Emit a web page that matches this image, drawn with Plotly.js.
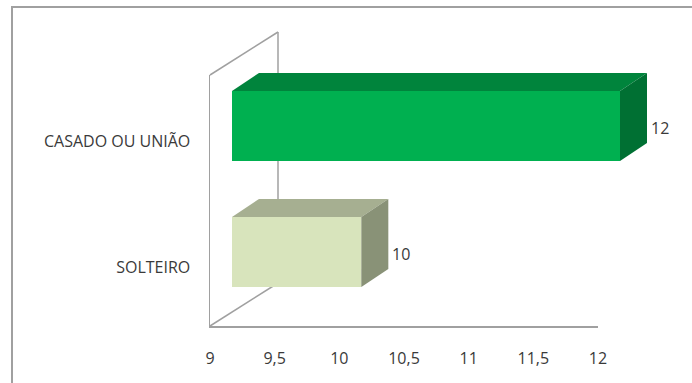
<!DOCTYPE html>
<html><head><meta charset="utf-8">
<script src="https://cdn.plot.ly/plotly-3.0.1.min.js"></script>
<style>html,body{margin:0;padding:0;background:#fff}#chart{width:692px;height:383px}</style>
</head><body><div id="chart"></div>
<script>
// ---- data ----
const categories = ['SOLTEIRO', 'CASADO OU UNIÃO'];
const values = [10, 12];
const tickValues = [9, 9.5, 10, 10.5, 11, 11.5, 12];
const valueLabels = ['10', '12'];

// ---- styles ----
const frontColors = ['#D8E4BC', '#00B050'];
const topColors = ['#A6AF91', '#00843C'];
const sideColors = ['#899277', '#007033'];
const textColor = '#3A3A3A';
const lineColor = '#A0A0A0';
const fontFam = 'Open Sans, sans-serif';

// ---- geometry (pixels) ----
const W = 692, H = 383;
const xMin = tickValues[0], xMax = tickValues[tickValues.length - 1];
const axL = 210, axR = 598, axB = 326, axT = 75;
const pxX = (axR - axL) / (xMax - xMin);
const catPx = [267, 141];
const pxY = catPx[0] - catPx[1];
const frontShift = {x: 22, y: 15};
const depth = {x: 27, y: 18};
const wallDepth = {x: 68, y: 43};
const barPx = 70;

const px2 = (px, py) => [px / W, 1 - py / H];

// main axis ranges
const yMainRange = [0 - (axB - catPx[0]) / pxY, 1 + (catPx[1] - axT) / pxY];
// overlay axes covering whole paper, offset for bar depth
const fx = axL + frontShift.x;
const fy0 = catPx[0] - frontShift.y;
const x2Range = [xMin - fx / pxX, xMin + (W - fx) / pxX];
const y2Range = [0 - (H - fy0) / pxY, fy0 / pxY];

const bw = barPx / pxY;
const ddx = depth.x / pxX, ddy = depth.y / pxY;

const traces = [];
values.forEach((v, i) => {
  const y0 = i - bw / 2, y1 = i + bw / 2;
  traces.push({
    type: 'scatter', mode: 'lines', xaxis: 'x2', yaxis: 'y2',
    x: [xMin, xMin + ddx, v + ddx, v, xMin],
    y: [y1, y1 + ddy, y1 + ddy, y1, y1],
    fill: 'toself', fillcolor: topColors[i], line: {width: 0}, hoverinfo: 'skip', showlegend: false
  });
  traces.push({
    type: 'scatter', mode: 'lines', xaxis: 'x2', yaxis: 'y2',
    x: [v, v, v + ddx, v + ddx, v],
    y: [y0, y1, y1 + ddy, y0 + ddy, y0],
    fill: 'toself', fillcolor: sideColors[i], line: {width: 0}, hoverinfo: 'skip', showlegend: false
  });
});
traces.push({
  type: 'bar', orientation: 'h', xaxis: 'x2', yaxis: 'y2',
  y: categories.map((c, i) => i),
  x: values.map(v => v - xMin),
  base: xMin,
  width: bw,
  marker: {color: frontColors, line: {width: 0}},
  hoverinfo: 'skip', showlegend: false
});
// invisible trace on main axes so they render
traces.push({type: 'scatter', mode: 'markers', x: [xMin], y: [0], marker: {opacity: 0}, hoverinfo: 'skip', showlegend: false});

const annotations = values.map((v, i) => ({
  xref: 'x2', yref: 'y2', x: v + ddx, y: i, text: valueLabels[i],
  xanchor: 'left', yanchor: 'middle', xshift: 2, yshift: -2, showarrow: false,
  font: {family: fontFam, size: 16, color: textColor}
}));

const wallTopL = px2(axL, axT), wallTopB = px2(axL + wallDepth.x, axT - wallDepth.y);
const wallBotL = px2(axL, axB), wallBotB = px2(axL + wallDepth.x, axB - wallDepth.y);
const lineShape = (a, b) => ({type: 'line', xref: 'paper', yref: 'paper', x0: a[0], y0: a[1], x1: b[0], y1: b[1], line: {color: lineColor, width: 1.5}, layer: 'below'});
const b0 = px2(12, 7), b1 = px2(W + 20, H + 20);

const layout = {
  width: W, height: H,
  margin: {l: 0, r: 0, t: 0, b: 0},
  paper_bgcolor: '#fff', plot_bgcolor: 'rgba(0,0,0,0)',
  separators: ', ',
  showlegend: false,
  xaxis: {
    domain: [axL / W, axR / W], range: [xMin, xMax],
    tickvals: tickValues, ticks: '', showgrid: false, zeroline: false,
    showline: true, linecolor: lineColor, linewidth: 1.5,
    ticklabelstandoff: 17,
    tickfont: {family: fontFam, size: 16, color: textColor}, fixedrange: true
  },
  yaxis: {
    domain: [1 - axB / H, 1 - axT / H], range: yMainRange,
    tickvals: categories.map((c, i) => i), ticktext: categories,
    ticks: '', showgrid: false, zeroline: false,
    showline: true, linecolor: lineColor, linewidth: 1.5,
    ticklabelstandoff: 15,
    tickfont: {family: fontFam, size: 16, color: textColor}, fixedrange: true
  },
  xaxis2: {domain: [0, 1], range: x2Range, anchor: 'y2', visible: false, fixedrange: true},
  yaxis2: {domain: [0, 1], range: y2Range, anchor: 'x2', visible: false, fixedrange: true},
  shapes: [
    lineShape(wallTopL, wallTopB),
    lineShape(wallTopB, wallBotB),
    lineShape(wallBotL, wallBotB),
    {type: 'rect', xref: 'paper', yref: 'paper', x0: b0[0], y0: b0[1], x1: b1[0], y1: b1[1], line: {color: '#A0A0A0', width: 2}, layer: 'below'}
  ],
  annotations: annotations
};

Plotly.newPlot('chart', traces, layout, {staticPlot: true, displayModeBar: false});
</script>
</body></html>
